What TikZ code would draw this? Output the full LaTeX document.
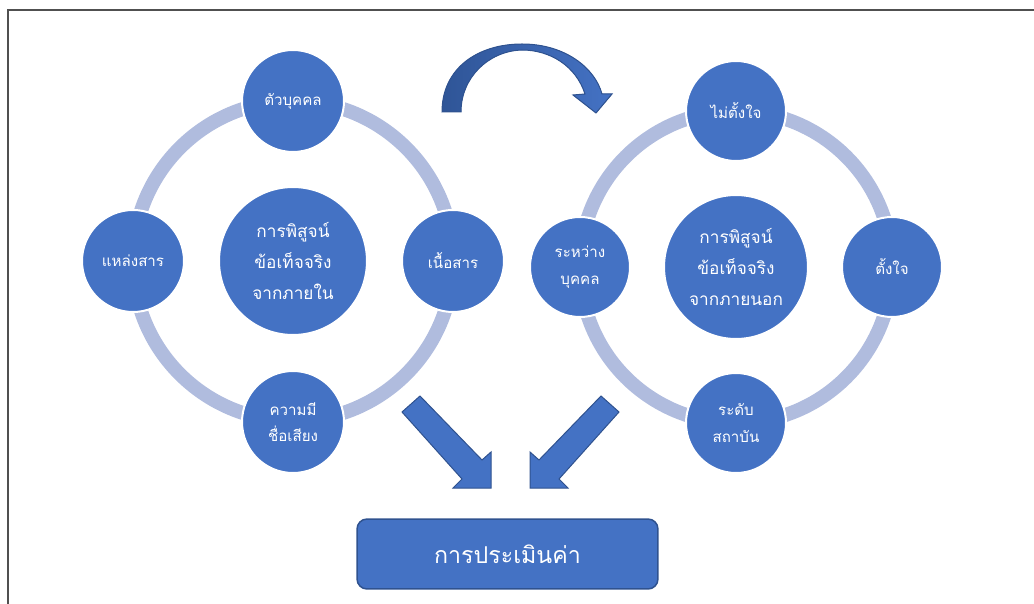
\documentclass[tikz,border=0pt]{standalone}
\usepackage{fontspec}
\newfontfamily\thaifont[Script=Thai]{Loma}
\definecolor{cirblue}{RGB}{68,114,196}
\definecolor{ringblue}{RGB}{176,188,222}
\definecolor{edgeblue}{RGB}{47,82,143}
\definecolor{darkblue}{RGB}{47,85,151}
\definecolor{framegray}{RGB}{80,80,80}
\tikzset{
  ringline/.style={draw=ringblue, line width=0.28cm},
  satnode/.style={circle, fill=cirblue, draw=white, line width=0.04cm,
    minimum size=2.04cm, inner sep=0pt, text=white, align=center,
    font=\thaifont\fontsize{8.6}{15}\selectfont},
  hubnode/.style={satnode, minimum size=2.96cm,
    font=\thaifont\fontsize{9.8}{17.6}\selectfont},
  evalbox/.style={rectangle, rounded corners=0.2cm, fill=cirblue, draw=edgeblue,
    line width=0.03cm, minimum width=6.02cm, minimum height=1.4cm, text=white,
    font=\thaifont\fontsize{13.2}{16}\selectfont},
  blockarrow/.style={fill=cirblue, draw=edgeblue, line width=0.02cm, line join=miter},
}
\begin{document}
\begin{tikzpicture}[x=0.02cm, y=-0.02cm]
\useasboundingbox (0,0) rectangle (1034,604);
\draw[framegray, line width=0.03cm] (8,604) -- (8,10) -- (1034,10); %frame
% inner cycle
\coordinate (LC) at (293,261);
\draw[ringline] (LC) circle (160); %left ring
\node[hubnode] (inner) at (LC) {การพิสูจน์\\ข้อเท็จจริง\\จากภายใน};
\node[satnode] (person) at (293,101) {ตัวบุคคล};
\node[satnode] (source) at (133,261) {แหล่งสาร};
\node[satnode] (content) at (453,261) {เนื้อสาร};
\node[satnode] (fame) at (293,422) {ความมี\\ชื่อเสียง};
% outer cycle
\coordinate (RC) at (736,267);
\draw[ringline] (RC) circle (156); %right ring
\node[hubnode, minimum size=2.88cm] (outer) at (RC) {การพิสูจน์\\ข้อเท็จจริง\\จากภายนอก};
\node[satnode, minimum size=2cm] (unintent) at (736,111) {ไม่ตั้งใจ};
\node[satnode, minimum size=2cm] (between) at (580,267) {ระหว่าง\\บุคคล};
\node[satnode, minimum size=2cm] (intent) at (892,267) {ตั้งใจ};
\node[satnode, minimum size=2cm] (institute) at (736,423) {ระดับ\\สถาบัน};
% evaluation
\node[evalbox] (eval) at (507.5,554) {การประเมินค่า};
\draw[blockarrow, left color=darkblue, right color=cirblue]
  (442,112) .. controls (442,68) and (478,44) .. (522,44)
  .. controls (565,44) and (595,68) .. (602,94)
  -- (612,94) -- (596,113) -- (573,95) -- (585,94)
  .. controls (576,66) and (550,50) .. (522,50)
  .. controls (488,51) and (461,78) .. (461,112) -- cycle; %curved arrow
\draw[blockarrow] (420,396) -- (482,460) -- (491,452) -- (491,488)
  -- (453,488) -- (462,479) -- (402,412) -- cycle; %left down arrow
\draw[blockarrow] (601,396) -- (539,460) -- (530,452) -- (530,488)
  -- (568,488) -- (559,479) -- (619,412) -- cycle; %right down arrow
\end{tikzpicture}
\end{document}
